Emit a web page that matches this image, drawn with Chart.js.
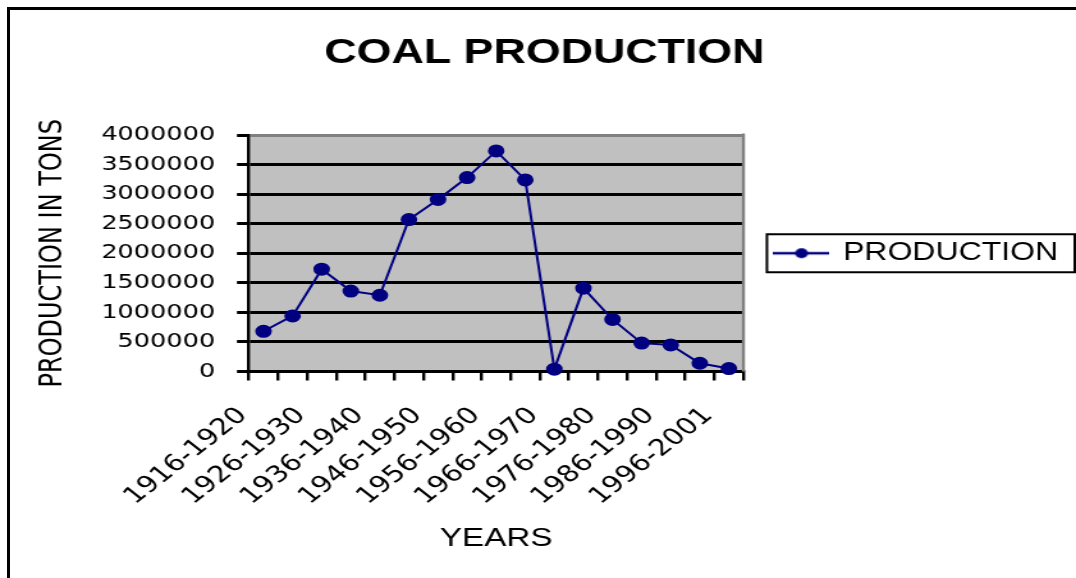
<!DOCTYPE html>
<html lang="en">
<head>
<meta charset="UTF-8">
<title>Coal Production</title>
<script src="https://cdn.jsdelivr.net/npm/chart.js"></script>
<style>
    body { margin: 0; background: #fff; overflow: hidden; }
    #frame {
        position: absolute; left: 7px; top: 7px;
        width: 1090px; height: 590px;
        border-left: 3px solid #000; border-top: 3px solid #000;
    }
</style>
</head>
<body>
<div id="frame"></div>
<!-- the old sheet chart looks stretched sideways, so the canvas is drawn narrow and widened by css -->
<canvas id="coalChart" width="841" height="578" style="width:1076px;height:578px"></canvas>
<script>
const years = [
    '1916-1920', '1921-1925', '1926-1930', '1931-1935', '1936-1940', '1941-1945',
    '1946-1950', '1951-1955', '1956-1960', '1961-1965', '1966-1970', '1971-1975',
    '1976-1980', '1981-1985', '1986-1990', '1991-1995', '1996-2001'
];
const production = [
    680000, 940000, 1730000, 1360000, 1290000, 2570000,
    2910000, 3280000, 3730000, 3240000, 40000, 1410000,
    880000, 480000, 450000, 140000, 50000
];
const yMin = 0;
const yMax = 4000000;
const yStep = 500000;

Chart.defaults.font.family = 'Liberation Sans';
Chart.defaults.color = '#000';

// little line + marker picture for the legend entry
const legendMark = document.createElement('canvas');
legendMark.width = 44;
legendMark.height = 12;
const m = legendMark.getContext('2d');
m.strokeStyle = '#000080';
m.lineWidth = 2.5;
m.beginPath();
m.moveTo(0, 6);
m.lineTo(44, 6);
m.stroke();
m.fillStyle = '#000080';
m.beginPath();
m.arc(22, 6, 5, 0, Math.PI * 2);
m.fill();

const plotFrame = {
    id: 'plotFrame',
    beforeDraw(chart) {
        const { ctx, chartArea: a } = chart;
        ctx.save();
        ctx.fillStyle = '#c0c0c0';
        ctx.fillRect(a.left, a.top, a.right - a.left, a.bottom - a.top);
        ctx.restore();
    },
    beforeDatasetsDraw(chart) {
        const { ctx, chartArea: a } = chart;
        ctx.save();
        ctx.strokeStyle = '#808080';
        ctx.lineWidth = 2.4;
        ctx.beginPath();
        ctx.moveTo(a.right, a.top - 1.5);
        ctx.lineTo(a.right, a.bottom);
        ctx.stroke();
        ctx.restore();
    },
    afterDraw(chart) {
        const box = chart.legend.legendHitBoxes[0];
        const ctx = chart.ctx;
        const mid = box.top + box.height / 2;
        const left = box.left - 7;
        ctx.save();
        ctx.strokeStyle = '#000';
        ctx.lineWidth = 2;
        ctx.strokeRect(left, mid - 19, chart.width - 1 - left, 38);
        ctx.restore();
    }
};

new Chart(document.getElementById('coalChart'), {
    type: 'line',
    data: {
        labels: years,
        datasets: [{
            label: 'PRODUCTION',
            data: production,
            borderColor: '#000080',
            backgroundColor: '#000080',
            borderWidth: 2,
            pointStyle: 'circle',
            pointRadius: 5.5,
            pointBackgroundColor: '#000080',
            pointBorderColor: '#000080',
            tension: 0,
            clip: false
        }]
    },
    options: {
        responsive: false,
        animation: false,
        events: [],
        layout: { padding: { left: 14, right: 4, top: 0, bottom: 0 } },
        plugins: {
            title: {
                display: true,
                text: 'COAL PRODUCTION',
                color: '#000',
                font: { family: 'Liberation Sans', size: 35, weight: 'bold' },
                padding: { top: 32.5, bottom: 60.5 }
            },
            legend: {
                position: 'right',
                fullSize: false,
                maxWidth: 320,
                labels: {
                    usePointStyle: true,
                    pointStyleWidth: 40,
                    padding: 25.4,
                    color: '#000',
                    font: { family: 'Liberation Sans', size: 25 },
                    generateLabels(chart) {
                        const items = Chart.defaults.plugins.legend.labels.generateLabels(chart);
                        items.forEach(item => { item.pointStyle = legendMark; });
                        return items;
                    }
                }
            },
            tooltip: { enabled: false }
        },
        scales: {
            x: {
                offset: true,
                grid: {
                    offset: true,
                    drawOnChartArea: false,
                    color: '#000',
                    lineWidth: 2.4,
                    tickLength: 9
                },
                border: { color: '#000', width: 3 },
                ticks: {
                    autoSkip: false,
                    minRotation: 45,
                    maxRotation: 45,
                    padding: 21.7,
                    labelOffset: -16,
                    color: '#000',
                    font: { family: 'DejaVu Sans', size: 23 },
                    callback: (value, i) => (i % 2 === 0 ? years[i] : '')
                },
                title: {
                    display: true,
                    text: 'YEARS',
                    color: '#000',
                    font: { family: 'Liberation Sans', size: 26 },
                    padding: { top: 0, bottom: 23.4 }
                },
                afterFit(scale) { scale.height = 206.5; }
            },
            y: {
                min: yMin,
                max: yMax,
                grid: {
                    color: c => (c.tick && c.tick.value === yMax ? '#808080' : '#000'),
                    lineWidth: 3,
                    tickColor: '#000',
                    tickLength: 9.4
                },
                border: { color: '#000', width: 2.4 },
                ticks: {
                    stepSize: yStep,
                    padding: 17,
                    color: '#000',
                    font: { family: 'DejaVu Sans', size: 20 },
                    callback: v => String(v)
                },
                title: {
                    display: true,
                    text: 'PRODUCTION IN TONS',
                    color: '#000',
                    font: { family: 'DejaVu Sans', size: 24 },
                    padding: { top: 13.8, bottom: 0 }
                },
                afterFit(scale) { scale.width = 180.6; }
            }
        }
    },
    plugins: [plotFrame]
});
</script>
</body>
</html>
